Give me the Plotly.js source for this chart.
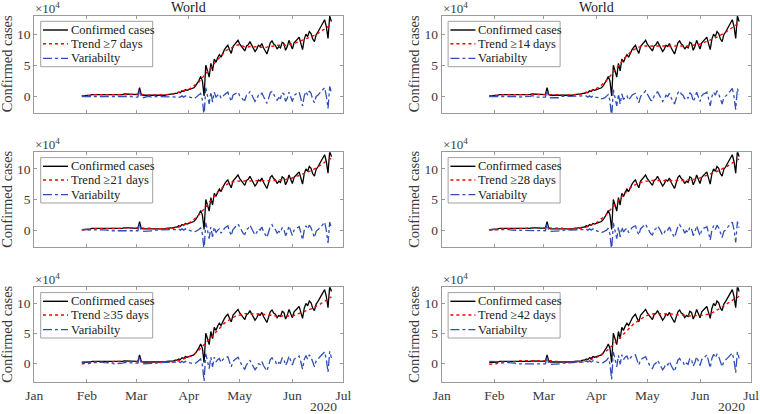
<!DOCTYPE html>
<html><head><meta charset="utf-8">
<script src="https://cdn.plot.ly/plotly-3.0.1.min.js"></script>
<style>html,body{margin:0;padding:0;background:#fff}#chart{width:760px;height:414px}</style>
</head><body><div id="chart"></div>
<script>
// ---------------- data (daily, thousands of cases, from 2020-01-29) ----------------
const startDate = [2020, 0, 29];
const monthTicks = ['2020-01-01','2020-02-01','2020-03-01','2020-04-01','2020-05-01','2020-06-01','2020-07-01'];
const monthLabels = ['Jan','Feb','Mar','Apr','May','Jun','Jul'];
const yTickVals = [0, 50, 100];
const yTickText = ['0', '5', '10'];
const trendWindows = [7, 14, 21, 28, 35, 42];

const cases = [1,1,2,2,2,2,3,3,3,3, 3,3,3,3,3,3,2,2,2,2, 2,2,3,3,3,4,4,3,3,3, 3,3,3,3,14,3,2,2,2,2,
 2,1,2,2,2,2,2,2,2,2, 3,3,3,4,4,5,5,7,6,9, 8,11,10,11,12,12,14,17,21,26, 32,25,1,50,41,31,53,41,60,55,
 62,67,63,70,75,79,82,75,69,80, 84,87,90,84,80,75,73,81,83,88, 83,78,72,76,82,80,85,78,73,68,
 77,86,89,84,82,76,80,78,87,85, 74,80,90,82,76,86,90,92,95,86, 75,92,100,96,104,101,92,88,99,103,
 108,113,118,123,112,93,129,120];

const trend7 = [1,1,2,2,2,2,3,3,3,3, 3,3,3,3,3,3,2,2,2,2, 2,2,3,3,3,3,3,3,3,3, 4,4,4,4,4,4,4,3,2,2,
 2,2,2,2,2,2,2,2,2,2, 3,3,3,4,4,5,6,7,7,8, 9,10,10,11,13,15,17,19,21,23, 27,30,33,36,39,43,46,50,53,56,
 60,63,66,69,72,74,75,76,77,78, 80,82,83,83,82,80,79,79,80,80, 80,80,80,80,80,79,79,78,78,79,
 80,80,81,81,82,82,82,81,81,81, 82,83,83,84,84,85,86,87,88,89, 90,91,92,94,95,96,97,98,99,101,
 103,105,107,109,111,112,113,114];
const trend14 = [1,1,1,2,2,2,2,2,3,3, 3,3,3,3,3,3,3,3,3,3, 3,3,3,3,3,3,3,4,4,4, 4,4,4,4,4,4,4,4,3,3,
 3,3,2,2,2,2,2,2,2,2, 2,3,3,3,4,4,5,6,7,8, 9,10,11,12,14,16,18,20,23,26, 29,32,35,39,42,46,49,53,56,60,
 63,66,69,71,73,75,77,78,79,80, 80,81,81,81,81,81,80,80,80,80, 80,80,80,80,80,80,80,80,80,80,
 80,80,80,80,80,80,80,81,81,82, 82,82,83,83,84,85,86,87,88,89, 90,92,93,94,95,97,98,100,101,103,
 105,107,109,110,112,114,116,117];
const trend21 = [0,0,1,1,1,1,2,2,2,2, 2,2,2,2,3,3,3,3,3,3, 3,3,3,3,3,4,4,4,4,4, 4,4,4,4,4,4,4,4,3,3,
 3,3,3,2,2,2,2,2,2,2, 2,2,3,3,3,4,4,5,6,7, 8,9,10,11,13,15,17,19,22,25, 28,31,34,38,41,45,48,52,55,59,
 62,65,68,70,72,74,75,77,78,79, 79,80,80,80,80,80,80,80,80,80, 80,80,80,80,80,80,80,80,80,80,
 80,80,80,81,81,81,82,82,83,83, 83,83,83,84,85,86,87,88,89,90, 91,92,93,94,96,97,98,100,101,103,
 105,107,109,110,112,114,116,117];
const trend28 = [0,0,0,1,1,1,1,2,2,2, 2,2,2,3,3,3,3,3,3,3, 3,3,3,4,4,4,4,4,4,4, 4,4,4,4,4,4,4,4,4,3,
 3,3,3,3,2,2,2,2,2,2, 2,2,3,3,3,4,4,5,6,7, 8,9,11,12,14,16,18,20,23,26, 29,32,35,38,42,45,48,52,55,58,
 61,64,67,69,71,73,75,76,77,78, 79,80,80,80,81,81,81,81,81,81, 80,80,80,80,80,80,80,80,80,80,
 80,80,80,80,80,81,81,82,82,83, 83,83,83,84,85,86,87,88,89,90, 91,92,93,95,96,97,98,100,101,103,
 104,106,108,110,111,113,115,116];
const trend35 = [-1,-1,0,0,0,0,0,1,1,1, 1,1,1,2,2,2,2,2,2,3, 3,3,3,3,3,3,3,3,3,3, 3,3,3,3,3,3,3,3,3,3,
 2,2,2,2,2,1,1,1,1,1, 1,1,2,2,2,3,3,4,5,6, 7,8,9,10,12,13,15,17,19,22, 25,28,31,34,37,40,43,47,50,53,
 56,59,62,64,67,69,71,73,75,77, 78,79,80,81,82,82,83,83,83,83, 83,83,83,83,83,82,82,82,81,81,
 81,80,80,80,79,79,79,78,78,78, 78,78,78,78,79,80,81,82,83,84, 85,86,87,89,90,91,92,94,95,97,
 98,100,102,104,106,108,109,111];
const trend42 = [-2,-2,-1,-1,-1,0,0,0,1,1, 1,2,2,2,3,3,3,3,4,4, 4,4,4,4,5,5,5,5,5,5, 5,5,5,4,4,4,4,4,4,3,
 3,3,3,2,2,2,2,1,1,1, 1,1,1,1,2,2,3,3,4,5, 6,7,8,9,11,12,14,16,18,21, 23,26,28,31,34,37,40,43,46,49,
 52,55,58,61,63,66,68,70,72,74, 76,77,79,80,81,82,82,83,83,83, 83,83,83,83,83,83,82,82,82,82,
 81,81,81,81,80,80,80,80,79,79, 79,79,79,79,80,80,80,81,81,82, 83,84,85,87,89,90,92,94,96,98,
 100,102,104,106,107,109,110,112];

const var7 = [0,0,0,0,0,0,0,0,0,0, 0,0,0,0,0,0,0,0,0,0, 0,0,0,0,0,1,1,0,0,0, -1,-1,-1,-1,10,-1,-2,-1,0,0,
 0,-1,0,0,0,0,0,0,0,0, 0,0,0,0,0,0,-1,0,-1,1, -1,1,0,0,-1,-3,-3,-2,0,3, 5,-5,-32,14,2,-12,7,-9,7,-1,
 2,4,-3,1,3,5,7,-1,-8,2, 4,5,7,1,-2,-5,-6,2,3,8, 3,-2,-8,-4,2,1,6,0,-5,-11,
 -3,6,8,3,0,-6,-2,-3,6,4, -8,-3,7,-2,-8,1,4,5,7,-3, -15,1,8,2,9,5,-5,-10,0,2,
 5,8,11,14,1,-19,16,6];
const var14 = [0,0,1,0,0,0,1,1,0,0, 0,0,0,0,0,0,-1,-1,-1,-1, -1,-1,0,0,0,1,1,-1,-1,-1, -1,-1,-1,-1,10,-1,-2,-2,-1,-1,
 -1,-2,0,0,0,0,0,0,0,0, 1,0,0,1,0,1,0,1,-1,1, -1,1,-1,-1,-2,-4,-4,-3,-2,0, 3,-7,-34,11,-1,-15,4,-12,4,-5,
 -1,1,-6,-1,2,4,5,-3,-10,0, 4,6,9,3,-1,-6,-7,1,3,8, 3,-2,-8,-4,2,0,5,-2,-7,-12,
 -3,6,9,4,2,-4,0,-3,6,3, -8,-2,7,-1,-8,1,4,5,7,-3, -15,0,7,2,9,4,-6,-12,-2,0,
 3,6,9,13,0,-21,13,3];
const var21 = [1,1,1,1,1,1,1,1,1,1, 1,1,1,1,0,0,-1,-1,-1,-1, -1,-1,0,0,0,0,0,-1,-1,-1, -1,-1,-1,-1,10,-1,-2,-2,-1,-1,
 -1,-2,-1,0,0,0,0,0,0,0, 1,1,0,1,1,1,1,2,0,2, 0,2,0,0,-1,-3,-3,-2,-1,1, 4,-6,-33,12,0,-14,5,-11,5,-4,
 0,2,-5,0,3,5,7,-2,-9,1, 5,7,10,4,0,-5,-7,1,3,8, 3,-2,-8,-4,2,0,5,-2,-7,-12,
 -3,6,9,3,1,-5,-2,-4,4,2, -9,-3,7,-2,-9,0,3,4,6,-4, -16,0,7,2,8,4,-6,-12,-2,0,
 3,6,9,13,0,-21,13,3];
const var28 = [1,1,2,1,1,1,2,1,1,1, 1,1,1,0,0,0,-1,-1,-1,-1, -1,-1,0,-1,-1,0,0,-1,-1,-1, -1,-1,-1,-1,10,-1,-2,-2,-2,-1,
 -1,-2,-1,-1,0,0,0,0,0,0, 1,1,0,1,1,1,1,2,0,2, 0,2,-1,-1,-2,-4,-4,-3,-2,0, 3,-7,-34,12,-1,-14,5,-11,5,-3,
 1,3,-4,1,4,6,7,-1,-8,2, 5,7,10,4,-1,-6,-8,0,2,7, 3,-2,-8,-4,2,0,5,-2,-7,-12,
 -3,6,9,4,2,-5,-1,-4,5,2, -9,-3,7,-2,-9,0,3,4,6,-4, -16,0,7,1,8,4,-6,-12,-2,0,
 4,7,10,13,1,-20,14,4];
const var35 = [2,2,2,2,2,2,3,2,2,2, 2,2,2,1,1,1,0,0,0,-1, -1,-1,0,0,0,1,1,0,0,0, 0,0,0,0,11,0,-1,-1,-1,-1,
 0,-1,0,0,0,1,1,1,1,1, 2,2,1,2,2,2,2,3,1,3, 1,3,1,1,0,-1,-1,0,2,4, 7,-3,-30,16,4,-9,10,-6,10,2,
 6,8,1,6,8,10,11,2,-6,3, 6,8,10,3,-2,-7,-10,-2,0,5, 0,-5,-11,-7,-1,-2,3,-4,-8,-13,
 -4,6,9,4,3,-3,1,0,9,7, -4,2,12,4,-3,6,9,10,12,2, -10,6,13,7,14,10,0,-6,4,6,
 10,13,16,19,6,-15,20,9];
const var42 = [3,3,3,3,3,2,3,3,2,2, 2,1,1,1,0,0,-1,-1,-2,-2, -2,-2,-1,-1,-2,-1,-1,-2,-2,-2, -2,-2,-2,-1,10,-1,-2,-2,-2,-1,
 -1,-2,-1,0,0,0,0,1,1,1, 2,2,2,3,2,3,2,4,2,4, 2,4,2,2,1,0,0,1,3,5, 9,-1,-27,19,7,-6,13,-2,14,6,
 10,12,5,9,12,13,14,5,-3,6, 8,10,11,4,-1,-7,-9,-2,0,5, 0,-5,-11,-7,-1,-3,3,-4,-9,-14,
 -4,5,8,3,2,-4,0,-2,8,6, -5,1,11,3,-4,6,10,11,14,4, -8,8,15,9,15,11,0,-6,3,5,
 8,11,14,17,5,-16,19,8];

// ---------------- drawing ----------------
const trends = [trend7, trend14, trend21, trend28, trend35, trend42];
const vars = [var7, var14, var21, var28, var35, var42];
const dates = cases.map((_, i) => new Date(Date.UTC(startDate[0], startDate[1], startDate[2] + i)).toISOString().slice(0, 10));

const W = 760, H = 414;
const colX = [[34.3, 343.3], [441.7, 751]];
const rowY = [[16, 112.7], [152.3, 247.3], [287.3, 382.3]];
const yRanges = [[-26, 129], [-28, 127], [-32, 127]];
const FONT = 'Liberation Serif, Times New Roman, serif';
const TXT = '#3a3a3a', FRAME = '#9a9a9a', BLUE = '#2f4fb8';
const px = x => x / W, py = y => 1 - y / H;

const data = [], shapes = [], annotations = [];
const layout = {width: W, height: H, margin: {l: 0, r: 0, t: 0, b: 0}, showlegend: false,
  paper_bgcolor: '#fff', plot_bgcolor: '#fff', font: {family: FONT, color: TXT}};

trendWindows.forEach((w, p) => {
  const row = Math.floor(p / 2), col = p % 2, s = p === 0 ? '' : String(p + 1);
  const [x0, x1] = colX[col], [y0, y1] = rowY[row];
  const axCommon = {showline: true, linecolor: FRAME, linewidth: 1, mirror: 'ticks', ticks: 'inside',
    ticklen: 3, tickcolor: FRAME, showgrid: false, zeroline: false, tickfont: {family: FONT, size: 13.5, color: TXT}};
  layout['xaxis' + s] = Object.assign({}, axCommon, {domain: [px(x0), px(x1)], anchor: 'y' + s, type: 'date',
    range: ['2020-01-01', '2020-07-01'], tickmode: 'array', tickvals: monthTicks, ticktext: monthLabels,
    showticklabels: row === 2});
  layout['yaxis' + s] = Object.assign({}, axCommon, {domain: [py(y1), py(y0)], anchor: 'x' + s,
    range: yRanges[row], tickmode: 'array', tickvals: yTickVals, ticktext: yTickText});

  const xa = 'x' + s, ya = 'y' + s;
  data.push({x: dates, y: cases, xaxis: xa, yaxis: ya, type: 'scatter', mode: 'lines', line: {color: '#000', width: 1.3}, hoverinfo: 'skip'});
  data.push({x: dates, y: trends[p], xaxis: xa, yaxis: ya, type: 'scatter', mode: 'lines', line: {color: '#ff0000', width: 1.4, dash: 'dot'}, hoverinfo: 'skip'});
  data.push({x: dates, y: vars[p], xaxis: xa, yaxis: ya, type: 'scatter', mode: 'lines', line: {color: BLUE, width: 1.3, dash: 'dashdot'}, hoverinfo: 'skip'});

  // legend box
  shapes.push({type: 'rect', xref: 'paper', yref: 'paper', x0: px(x0 + 6.4), x1: px(x0 + 118.4), y0: py(y0 + 50.7), y1: py(y0 + 5.3),
    line: {color: '#a0a0a0', width: 1}, fillcolor: '#fff', layer: 'above'});
  const entries = [
    [y0 + 14.0, 'Confirmed cases', {color: '#000', width: 1.4, dash: 'solid'}],
    [y0 + 27.7, 'Trend \u2265' + w + ' days', {color: '#ff0000', width: 1.4, dash: 'dot'}],
    [y0 + 42.3, 'Variabilty', {color: BLUE, width: 1.3, dash: 'dashdot'}]];
  entries.forEach(([yy, t, ln]) => {
    shapes.push({type: 'line', xref: 'paper', yref: 'paper', x0: px(x0 + 8.7), x1: px(x0 + 33.7), y0: py(yy), y1: py(yy), line: ln, layer: 'above'});
    annotations.push({xref: 'paper', yref: 'paper', x: px(x0 + 34.5), y: py(yy), xanchor: 'left', yanchor: 'middle',
      text: t, showarrow: false, font: {family: FONT, size: 12.5, color: '#202020'}});
  });

  // exponent label
  annotations.push({xref: 'paper', yref: 'paper', x: px(x0 - 1), y: py(y0 - 8), xanchor: 'left', yanchor: 'middle',
    text: '\u00d710<sup>4</sup>', showarrow: false, font: {family: FONT, size: 13, color: TXT}});
  // y label
  annotations.push({xref: 'paper', yref: 'paper', x: px(col === 0 ? 7 : 414), y: py((y0 + y1) / 2), xanchor: 'center', yanchor: 'middle',
    text: 'Confirmed cases', textangle: -90, showarrow: false, font: {family: FONT, size: 14.5, color: TXT}});
  if (row === 0) {
    annotations.push({xref: 'paper', yref: 'paper', x: px((x0 + x1) / 2), y: py(7.5), xanchor: 'center', yanchor: 'middle',
      text: 'World', showarrow: false, font: {family: FONT, size: 14, color: '#202020'}});
  }
  if (row === 2) {
    annotations.push({xref: 'paper', yref: 'paper', x: px(x1 - 4), y: py(406.5), xanchor: 'right', yanchor: 'middle',
      text: '2020', showarrow: false, font: {family: FONT, size: 13.5, color: TXT}});
  }
});
layout.shapes = shapes;
layout.annotations = annotations;
Plotly.newPlot('chart', data, layout, {displayModeBar: false, staticPlot: true});
</script>
</body></html>
